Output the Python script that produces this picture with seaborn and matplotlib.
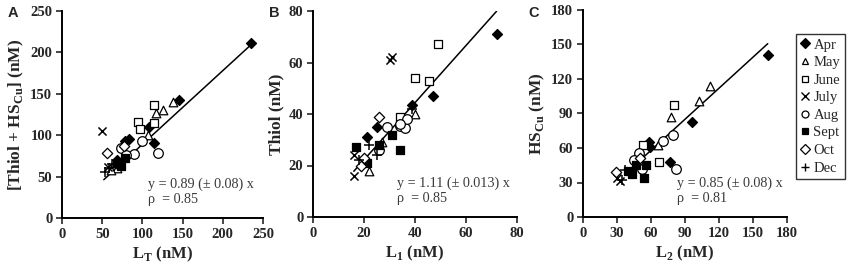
import seaborn as sns
import matplotlib.pyplot as plt
import pandas as pd
from matplotlib.lines import Line2D

# months and how they are drawn
months = ['Apr', 'May', 'June', 'July', 'Aug', 'Sept', 'Oct', 'Dec']
month_marker = ['D', '^', 's', 'x', 'o', 's', 'D', '+']
month_fill = ['black', 'white', 'white', 'black', 'white', 'black', 'white', 'black']
month_size = [26, 38, 40, 34, 48, 34, 28, 46]

# Panel A: L_T vs [Thiol + HS_Cu]
a_month = ['Apr'] * 7 + ['May'] * 6 + ['June'] * 4 + ['July'] * 2 + ['Aug'] * 5 + ['Sept'] * 5 + ['Oct'] * 2 + ['Dec'] * 3
a_x = [235, 146, 115, 108, 83, 78, 68,
       138, 117, 126, 107, 68, 61,
       114, 95, 97, 115,
       50, 57,
       100, 90, 119, 74, 80,
       72, 78, 68, 74, 71,
       56, 77,
       53, 58, 62]
a_y = [211, 143, 91, 110, 96, 93, 70,
       140, 127, 131, 100, 60, 58,
       136, 116, 108, 115,
       105, 62,
       93, 77, 79, 84, 76,
       68, 72, 66, 63, 65,
       78, 87,
       55, 60, 65]

# Panel B: L_1 vs Thiol
b_month = ['Apr'] * 5 + ['May'] * 3 + ['June'] * 4 + ['July'] * 4 + ['Aug'] * 6 + ['Sept'] * 5 + ['Oct'] * 3 + ['Dec'] * 4
b_x = [72, 47, 39, 25, 21,
       40, 22, 27,
       49, 40, 45.5, 34,
       31, 30, 16, 16,
       29, 34, 36, 37, 26, 34,
       17, 31, 34, 26, 21,
       26, 20, 19,
       22, 18, 25, 39]
b_y = [71, 47, 43.5, 35, 31,
       40, 18, 29,
       67, 54, 53, 39,
       62, 61, 16, 24,
       35, 35.5, 34.5, 38, 26, 36,
       27, 32, 26, 28, 21,
       39, 23, 20,
       28, 22, 24, 42]

# Panel C: L_2 vs HS_Cu
c_month = ['Apr'] * 5 + ['May'] * 4 + ['June'] * 3 + ['July'] * 2 + ['Aug'] * 6 + ['Sept'] * 5 + ['Oct'] * 2 + ['Dec'] * 2
c_x = [163, 96, 58, 59, 77,
       112, 102, 78, 66,
       80, 53, 67,
       33, 30,
       79, 71, 82, 49, 52, 45,
       54, 56, 43, 40, 47,
       29, 50,
       34, 37]
c_y = [141, 83, 65, 61, 48,
       114, 101, 87, 63,
       97, 63, 48,
       31, 34,
       71, 66, 42, 56, 42, 50,
       34, 45, 37, 40, 45,
       39, 51,
       32, 41]

# fitted lines: slope, intercept, x range
fit_slope = [0.89, 1.11, 0.9]
fit_icpt = [0, 0, 4]
fit_x0 = [52, 16, 45]
fit_x1 = [235, 72, 163]

sns.set_style('ticks')
plt.rcParams['font.family'] = ['Liberation Serif', 'DejaVu Serif']
plt.rcParams['mathtext.fontset'] = 'custom'
plt.rcParams['mathtext.rm'] = 'Liberation Serif'
plt.rcParams['mathtext.bf'] = 'Liberation Serif:bold'

fig = plt.figure(figsize=(8.56, 2.73), dpi=100)
W, H = 856, 273


def px_axes(left, top, right, bottom):
    return fig.add_axes([left / W, 1 - bottom / H, (right - left) / W, (bottom - top) / H])


panels = [
    dict(ax=px_axes(62, 11, 263, 218), month=a_month, x=a_x, y=a_y, lim=250, step=50,
         xlabel=r'L$_\mathbf{T}$ (nM)', ylabel=r'[Thiol + HS$_\mathbf{Cu}$] (nM)',
         eq='y = 0.89 (± 0.08) x', rho='ρ  = 0.85', tx=0.43, letter='A', lx=8),
    dict(ax=px_axes(313, 11, 517, 217), month=b_month, x=b_x, y=b_y, lim=80, step=20,
         xlabel=r'L$_\mathbf{1}$ (nM)', ylabel='Thiol (nM)',
         eq='y = 1.11 (± 0.013) x', rho='ρ  = 0.85', tx=0.41, letter='B', lx=269),
    dict(ax=px_axes(583, 10, 787, 217), month=c_month, x=c_x, y=c_y, lim=180, step=30,
         xlabel=r'L$_\mathbf{2}$ (nM)', ylabel=r'HS$_\mathbf{Cu}$ (nM)',
         eq='y = 0.85 (± 0.08) x', rho='ρ  = 0.81', tx=0.46, letter='C', lx=528),
]

for i, p in enumerate(panels):
    ax = p['ax']
    df = pd.DataFrame({'month': p['month'], 'x': p['x'], 'y': p['y']})
    xs = [fit_x0[i], fit_x1[i]]
    ax.plot(xs, [fit_slope[i] * v + fit_icpt[i] for v in xs], color='black', lw=1.1, zorder=1)
    for m, mk, fc, sz in zip(months, month_marker, month_fill, month_size):
        sub = df[df['month'] == m]
        if mk in ('x', '+'):
            sns.scatterplot(data=sub, x='x', y='y', ax=ax, marker=mk, color='black',
                            s=sz, linewidth=1.1, zorder=3)
        else:
            sns.scatterplot(data=sub, x='x', y='y', ax=ax, marker=mk, facecolor=fc,
                            edgecolor='black', s=sz, linewidth=0.9, zorder=3)
    ax.set_xlim(0, p['lim'])
    ax.set_ylim(0, p['lim'])
    ticks = list(range(0, p['lim'] + 1, p['step']))
    ax.set_xticks(ticks)
    ax.set_yticks(ticks)
    ax.tick_params(length=4, width=1.2, labelsize=10.5, pad=3)
    for lab in ax.get_xticklabels() + ax.get_yticklabels():
        lab.set_fontweight('bold')
    sns.despine(ax=ax)
    for s in ('left', 'bottom'):
        ax.spines[s].set_linewidth(1.4)
        ax.spines[s].set_color('black')
    ax.set_xlabel(p['xlabel'], fontsize=12, fontweight='bold', labelpad=3)
    ax.set_ylabel(p['ylabel'], fontsize=12.5, fontweight='bold', labelpad=3)
    ax.text(p['tx'], 0.165, p['eq'], transform=ax.transAxes, fontsize=10.2, color='#3a3a3a', va='center')
    ax.text(p['tx'], 0.09, p['rho'], transform=ax.transAxes, fontsize=10.2, color='#3a3a3a', va='center')
    fig.text(p['lx'] / W, 1 - 13 / H, p['letter'], fontsize=10.5, fontweight='bold',
             family='Liberation Sans', va='center', ha='left')

handles = []
for m, mk, fc, sz in zip(months, month_marker, month_fill, month_size):
    if mk in ('x', '+'):
        h = Line2D([], [], linestyle='none', marker=mk, color='black', markersize=5.5, markeredgewidth=1.0)
    else:
        h = Line2D([], [], linestyle='none', marker=mk, markerfacecolor=fc, markeredgecolor='black',
                   markersize=5, markeredgewidth=0.9)
    handles.append(h)

leg = fig.legend(handles, months, loc='upper left', bbox_to_anchor=(796 / W, 1 - 34 / H),
                 frameon=True, fancybox=False, edgecolor='black', fontsize=10.5,
                 handlelength=0.6, handletextpad=0.3, labelspacing=0.3, borderpad=0.3,
                 borderaxespad=0)
leg.get_frame().set_linewidth(1.0)

plt.savefig('out.png', dpi=100)
